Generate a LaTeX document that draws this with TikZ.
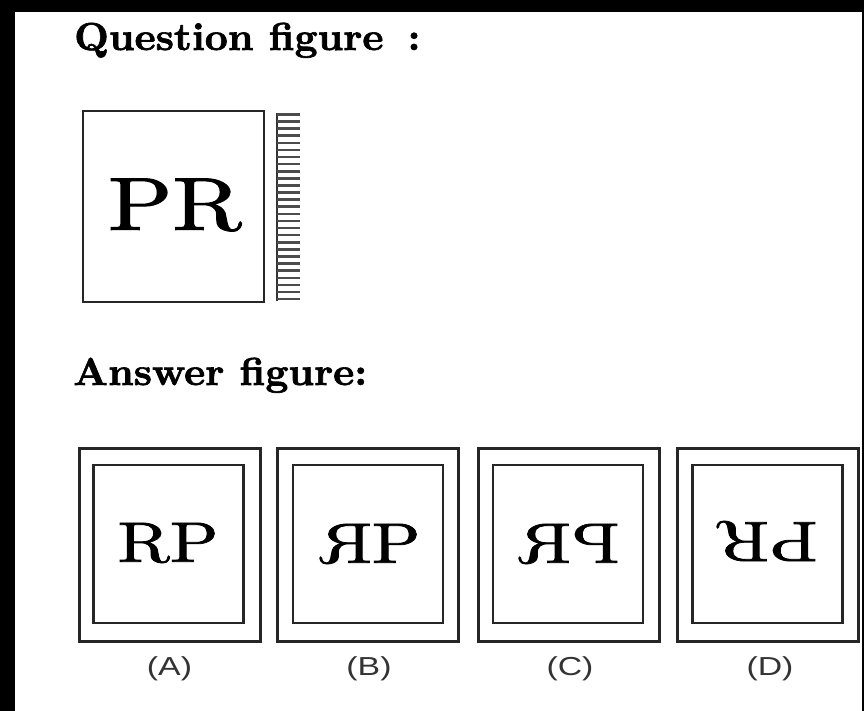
\documentclass[tikz,border=0pt]{standalone}
\usepackage{fontspec}
\usepackage{graphicx}
\usetikzlibrary{calc}
\newfontfamily\labelfont{Liberation Sans}
\newfontfamily\titlefont{lmroman10-bold}[Extension=.otf, FakeBold=1.6]
\newfontfamily\boxfont{lmroman10-regular}[Extension=.otf, FakeBold=1.3]
\begin{document}
\begin{tikzpicture}[x=1pt,y=-1pt,
  title/.style={font=\titlefont\fontsize{39}{39}\selectfont, inner sep=0pt, anchor=base west},
  qbox/.style={draw=black!85, line width=2.6pt, minimum width=181pt, minimum height=191pt, inner sep=0pt},
  qtext/.style={font=\boxfont\fontsize{75}{75}\selectfont, inner sep=0pt},
  mirrorline/.style={draw=black!80, line width=2.2pt},
  hatchline/.style={draw=black!70, line width=2.6pt},
  outerbox/.style={draw=black!85, line width=3pt, minimum width=181pt, minimum height=193pt, inner sep=0pt},
  innerbox/.style={draw=black!85, line width=2.8pt, minimum width=150pt, minimum height=158pt, inner sep=0pt},
  anstext/.style={font=\boxfont\fontsize{57}{57}\selectfont, inner sep=0pt},
  optlabel/.style={font=\labelfont\fontsize{26}{26}\selectfont, text=black!80, inner sep=0pt}
]
\useasboundingbox (0,0) rectangle (864,711);
\fill[black] (0,0) rectangle (864,711);
\fill[white] (15,12) rectangle (862,711);

% titles
\node[title] (qtitle) at (74,50) {\scalebox{1.03}[1]{Question figure\hspace{0.6em}:}};
\node[title] (atitle) at (73,385) {\scalebox{1.03}[1]{Answer figure:}};

% question figure
\node[qbox] (qbox) at (173.5,206.5) {};
\node[qtext] (qpr) at (175,205) {\scalebox{1.26}[1]{PR}};
\coordinate (mtop) at (277,113);
\coordinate (mbot) at (277,301);
\draw[mirrorline] (mtop) -- (mbot);
\foreach \i in {0,...,26}{
  \draw[hatchline] ($(mtop)+(0,1.5+\i*7.1)$) -- ++(23,0);
}

% answer figures
\node[outerbox] (oA) at (169.5,544.5) {};
\node[innerbox] (iA) at (168.5,544) {};
\node[anstext] (tA) at (168,543) {\scalebox{1.25}[1]{RP}};
\node[optlabel] (lA) at (169.5,669) {\scalebox{1.3}[1]{(A)}};

\node[outerbox] (oB) at (368,544.5) {};
\node[innerbox] (iB) at (368,544) {};
\node[anstext] (tB) at (370,544) {\scalebox{1.25}[1]{\reflectbox{R}P}};
\node[optlabel] (lB) at (369,669) {\scalebox{1.3}[1]{(B)}};

\node[outerbox] (oC) at (569,544.5) {};
\node[innerbox] (iC) at (568,544) {};
\node[anstext] (tC) at (569,544) {\scalebox{1.25}[1]{\reflectbox{PR}}};
\node[optlabel] (lC) at (570,669) {\scalebox{1.3}[1]{(C)}};

\node[outerbox] (oD) at (767.5,544.5) {};
\node[innerbox] (iD) at (767.5,544) {};
\node[anstext, rotate=180] (tD) at (767,541) {\scalebox{1.25}[1]{PR}};
\node[optlabel] (lD) at (770,669) {\scalebox{1.3}[1]{(D)}};
\end{tikzpicture}
\end{document}
